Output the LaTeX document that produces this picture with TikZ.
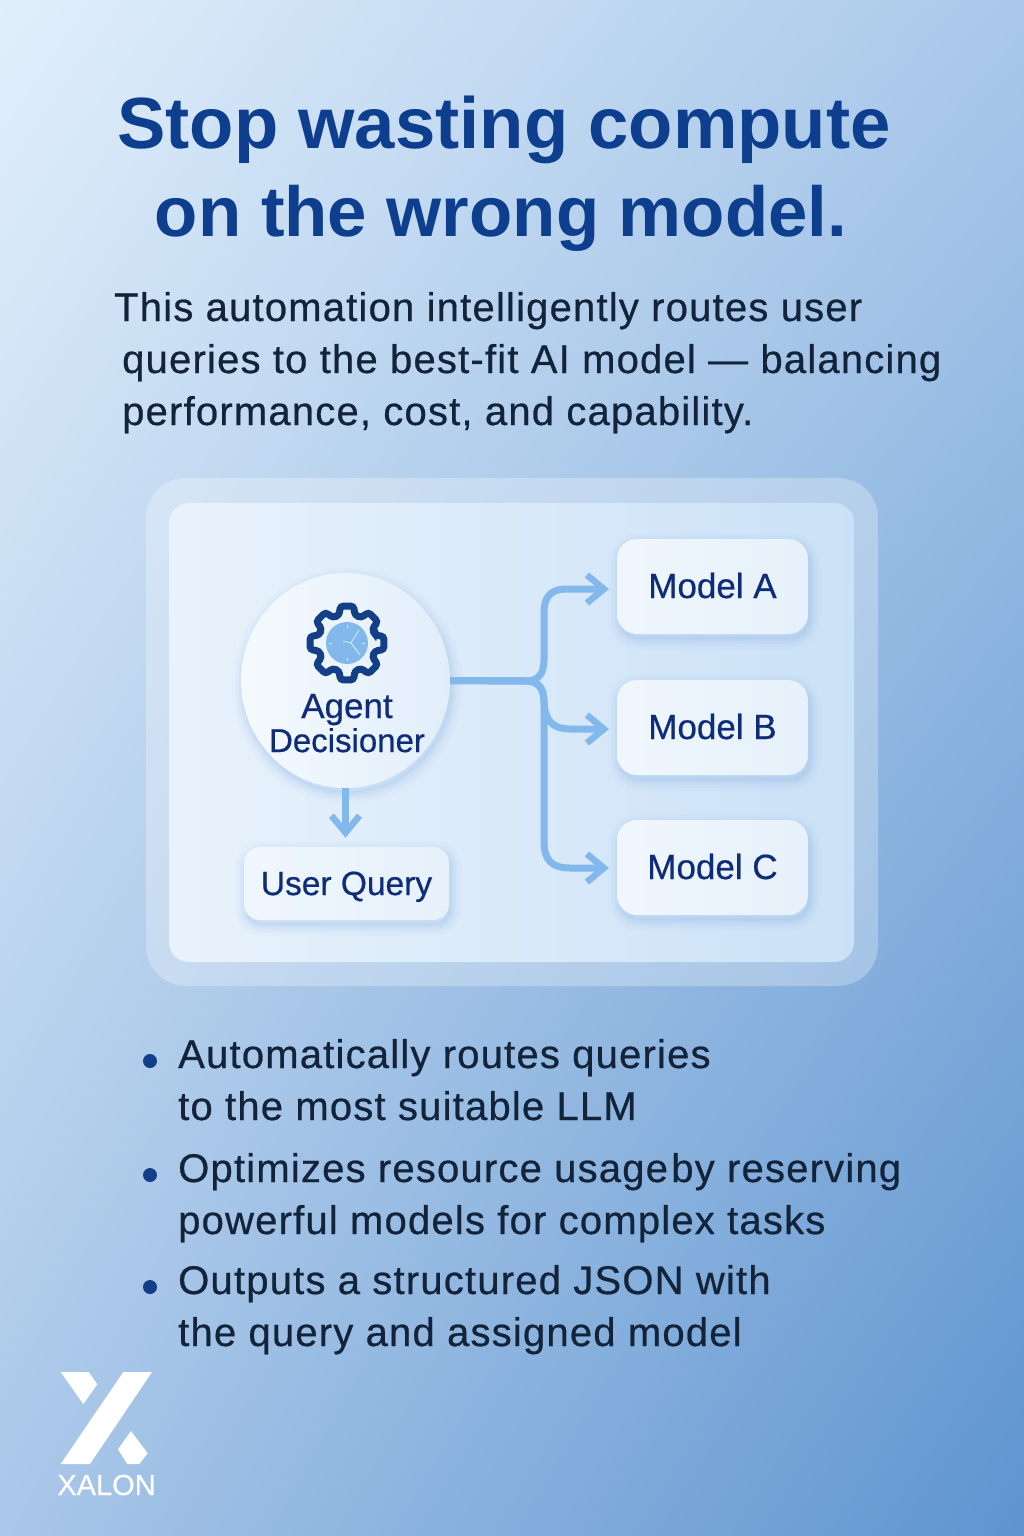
\documentclass[tikz,border=0pt]{standalone}
\usepackage{fontspec}
\usepackage{tikz}
\usetikzlibrary{arrows.meta,shadings,shapes.geometric}
\setmainfont{Liberation Sans}
\newfontfamily\spacedfont[LetterSpace=3,FakeBold=.6]{Liberation Sans}
\newfontfamily\mediumfont[FakeBold=.6]{Liberation Sans}

\definecolor{bgTL}{HTML}{E1EFFB}
\definecolor{bgTR}{HTML}{A9C8EA}
\definecolor{bgBL}{HTML}{A9C7E9}
\definecolor{bgBR}{HTML}{5E94CF}
\definecolor{titleblue}{HTML}{0E3E8E}
\definecolor{bodyink}{HTML}{13243A}
\definecolor{navy}{HTML}{0F2C78}
\definecolor{linkblue}{HTML}{82B8EC}
\definecolor{gearblue}{HTML}{123F85}
\definecolor{shadowblue}{HTML}{6FA3DE}

\tikzset{
  softshadow/.style={
    preaction={draw=shadowblue, line width=22pt, opacity=.03, transform canvas={shift={(2pt,-5pt)}}},
    preaction={draw=shadowblue, line width=15pt, opacity=.05, transform canvas={shift={(2pt,-5pt)}}},
    preaction={draw=shadowblue, line width=9pt, opacity=.06, transform canvas={shift={(2pt,-5pt)}}},
    preaction={draw=shadowblue, fill=shadowblue, line width=4pt, opacity=.08, transform canvas={shift={(2pt,-5pt)}}}},
  card/.style={softshadow, shade, shading angle=45, left color=white!88!linkblue, right color=white!80!linkblue,
    rounded corners=#1, text=navy, font=\mediumfont\fontsize{35}{40}\selectfont, inner sep=0pt,
    text height=25pt, text depth=2pt},
  link/.style={draw=linkblue, line width=7pt, line join=round},
  arrowed/.style={link, -{Straight Barb[length=17pt,width=28pt,line width=6.5pt]}},
  bodyline/.style={anchor=base west, inner sep=0pt, text=bodyink, font=\spacedfont\fontsize{40}{52}\selectfont},
  dot/.style={circle, fill=gearblue, minimum size=14pt, inner sep=0pt}
}

\begin{document}
\begin{tikzpicture}
  [x=1pt, y=-1pt]
  \useasboundingbox (0, 0) rectangle (1024, 1536);
  \shade[upper left=bgTL, upper right=bgTR, lower left=bgBL, lower right=bgBR] (0, 0) rectangle (1024, 1536);

  % heading
  \node (title1) [anchor=base, inner sep=0pt, text=titleblue, font=\fontsize{72.5}{80}\bfseries\selectfont] at (504, 149) {Stop wasting compute};
  \node (title2) [anchor=base, inner sep=0pt, text=titleblue, font=\fontsize{70.8}{80}\bfseries\selectfont] at (501, 236) {on the wrong model.};
  \node (body1) [bodyline] at (114, 321) {This automation intelligently routes user};
  \node (body2) [bodyline] at (122, 373) {queries to the best-fit AI model — balancing};
  \node (body3) [bodyline] at (122, 425) {performance, cost, and capability.};

  % panels
  \fill[white, opacity=.28, rounded corners=40pt] (146, 478) rectangle (878, 986);
  \shade[shading angle=45, left color=white!82!linkblue, right color=white!58!linkblue, rounded corners=20pt] (169, 503) rectangle (854, 962);

  % boxes
  \node (decider) [softshadow, ellipse, shade, shading angle=45, left color=white!92!linkblue, right color=white!76!linkblue, minimum width=209pt, minimum height=215pt, inner sep=0pt] at (345.5, 680.5) {};
  \node (userq) [card=16pt, minimum width=205pt, minimum height=73pt, font=\mediumfont\fontsize{33.5}{40}\selectfont] at (346.5, 883.5) {User Query};
  \node (modelA) [card=20pt, minimum width=191pt, minimum height=95pt] at (712.5, 586.5) {Model A};
  \node (modelB) [card=20pt, minimum width=191pt, minimum height=95pt] at (712.5, 727.5) {Model B};
  \node (modelC) [card=20pt, minimum width=191pt, minimum height=95pt] at (712.5, 867.5) {Model C};
  \node (agent) [inner sep=0pt, text=navy, anchor=base, font=\mediumfont\fontsize{35}{38}\selectfont] at (347, 718) {Agent};
  \node (decisioner) [inner sep=0pt, text=navy, anchor=base, font=\mediumfont\fontsize{33}{38}\selectfont] at (347, 752) {Decisioner};

  % gear
  \coordinate (gearc) at (347, 643);
  \begin{scope}[shift={(gearc)}]
    \draw[gearblue, line width=7pt, rounded corners=3pt]
      (-16:29) \foreach \a in {0,45,...,315} {-- (\a-16:29) -- (\a-10:37.5) -- (\a+10:37.5) -- (\a+16:29)} -- cycle;
    \node (dial) [circle, fill=linkblue, minimum size=42pt, inner sep=0pt] at (0, 0) {};
    \foreach \a in {0,90,180,270}
      \draw[white, opacity=.7, line width=.6pt] (\a:15) -- (\a:18);
    \draw[white, opacity=.8, line width=.7pt] (-4, -2) -- (4, 0) -- (12, -13);
    \draw[white, opacity=.8, line width=.7pt] (4, 0) -- (13, 12);
  \end{scope}

  % connectors
  \coordinate (inA) at (609, 589);
  \coordinate (inB) at (609, 729);
  \coordinate (inC) at (609, 868);
  \draw[arrowed] (decider.east) -- (526, 681) .. controls (538, 681) and (544, 674) .. (544, 660) -- (544, 612) .. controls (544, 597) and (551, 589) .. (566, 589) -- (inA);
  \draw[arrowed] (decider.east) -- (526, 681) .. controls (538, 681) and (544, 688) .. (544, 702) .. controls (545, 720) and (552, 729) .. (570, 729) -- (inB);
  \draw[arrowed] (decider.east) -- (526, 681) .. controls (538, 681) and (544, 688) .. (544, 702) -- (544, 842) .. controls (544, 860) and (552, 868) .. (570, 868) -- (inC);
  \draw[arrowed, shorten >=9pt] (decider.south) -- (decider.south |- userq.north);

  % bullets
  \foreach \name/\y in {b1/1061, b2/1175, b3/1287}
    \node (\name) [dot] at (150, \y) {};
  \foreach \name/\y/\txt in {t1/1068/{Automatically routes queries}, t2/1120/{to the most suitable LLM},
    t3/1182/{Optimizes resource usage\kern-9pt{} by reserving}, t4/1234/{powerful models for complex tasks},
    t5/1294/{Outputs a structured JSON with}, t6/1346/{the query and assigned model}}
    \node (\name) [bodyline] at (178, \y) {\txt};

  % logo
  \fill[white] (60.7, 1372) -- (88.7, 1372) -- (97.3, 1384.3) -- (83.3, 1404) -- cycle;
  \fill[white] (123.3, 1372) -- (152, 1372) -- (90, 1464) -- (60.7, 1464) -- cycle;
  \fill[white] (131, 1431) -- (147.7, 1453.3) -- (139.3, 1464) -- (127.3, 1464) -- (118, 1449.3) -- cycle;
  \node (logo) [anchor=base, inner sep=0pt, text=white, font=\mediumfont\fontsize{29}{30}\selectfont] at (106.5, 1495) {XALON};
\end{tikzpicture}
\end{document}
